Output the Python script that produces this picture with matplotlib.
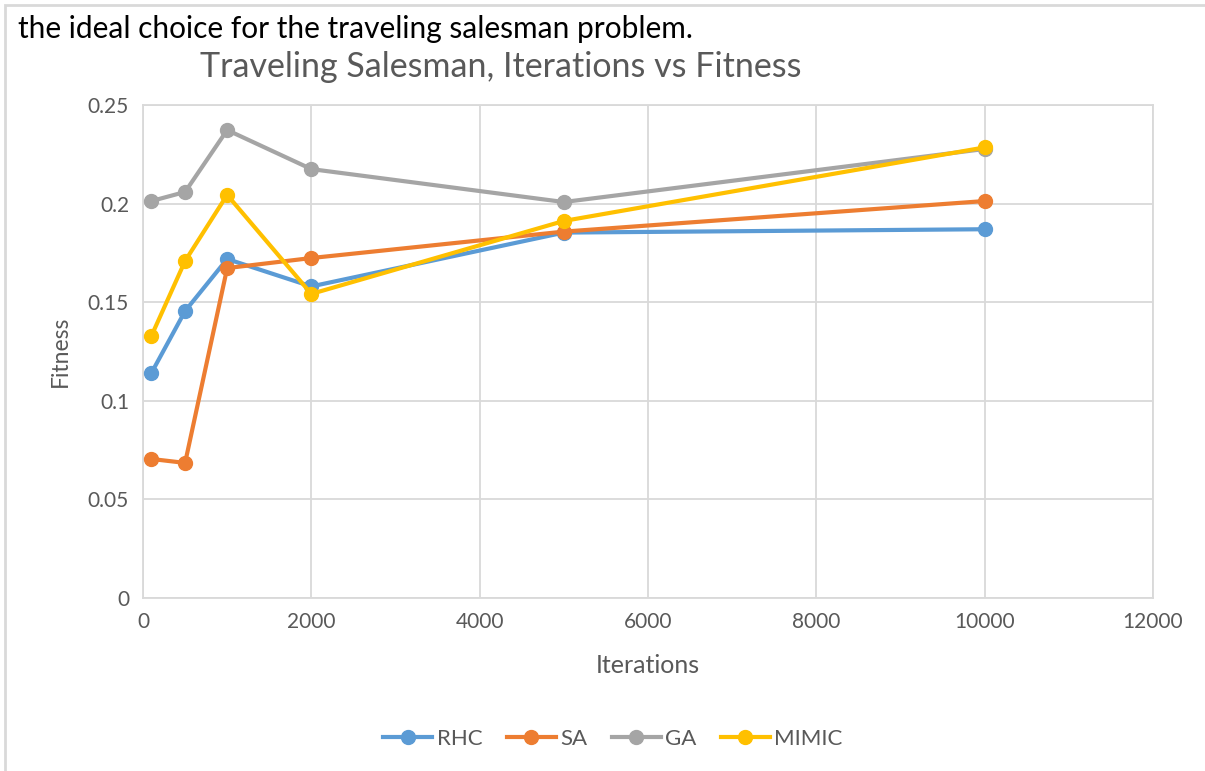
import matplotlib
matplotlib.use("Agg")
import matplotlib.pyplot as plt
from matplotlib.patches import Rectangle

plt.rcParams["font.family"] = ["Lato", "DejaVu Sans"]

iterations = [100, 500, 1000, 2000, 5000, 10000]
rhc = [0.1141, 0.1455, 0.1719, 0.1580, 0.1853, 0.1870]
sa = [0.0705, 0.0685, 0.1673, 0.1724, 0.1858, 0.2013]
ga = [0.2013, 0.2059, 0.2373, 0.2175, 0.2008, 0.2277]
mimic = [0.1329, 0.1709, 0.2044, 0.1542, 0.1912, 0.2285]

series = [("RHC", rhc, "#5B9BD5"), ("SA", sa, "#ED7D31"),
          ("GA", ga, "#A5A5A5"), ("MIMIC", mimic, "#FFC000")]

TXT = "#595959"
GRID = "#D9D9D9"

fig = plt.figure(figsize=(12.05, 7.71), dpi=100)
# frame of the embedded chart
fig.patches.append(Rectangle((5 / 1205, -0.01), 1.02, 1 - 5 / 771 + 0.01,
                             transform=fig.transFigure, fill=False,
                             ec=GRID, lw=2))
fig.text(18 / 1205, 1 - 29 / 771, "the ideal choice for the traveling salesman problem.",
         fontsize=21.5, color="black", va="center", ha="left")

ax = fig.add_axes([143 / 1205, 1 - 598 / 771, 1010 / 1205, 493 / 771])
for name, vals, col in series:
    ax.plot(iterations, vals, color=col, lw=3, marker="o", ms=10,
            label=name, zorder=3)

ax.set_xlim(0, 12000)
ax.set_ylim(0, 0.25)
ax.set_xticks(range(0, 12001, 2000))
ax.set_yticks([0, 0.05, 0.1, 0.15, 0.2, 0.25])
ax.set_yticklabels(["0", "0.05", "0.1", "0.15", "0.2", "0.25"])
ax.grid(True, color=GRID, lw=1.3)
ax.set_axisbelow(True)
for sp in ax.spines.values():
    sp.set_color(GRID)
    sp.set_linewidth(1.3)
ax.tick_params(length=0, labelsize=15, colors=TXT, pad=10)
ax.set_xlabel("Iterations", fontsize=18, color=TXT, labelpad=16)
ax.set_ylabel("Fitness", fontsize=16.5, color=TXT, labelpad=12)
fig.text(501 / 1205, 1 - 67 / 771, "Traveling Salesman, Iterations vs Fitness",
         fontsize=24.5, color=TXT, ha="center", va="center")

ax.legend(loc="center", bbox_to_anchor=(613 / 1205, 1 - 739 / 771),
          bbox_transform=fig.transFigure, ncol=4, frameon=False,
          fontsize=16, labelcolor=TXT, handlelength=2.2, columnspacing=1.1,
          handletextpad=0.2)

fig.savefig("out.png", dpi=100)
